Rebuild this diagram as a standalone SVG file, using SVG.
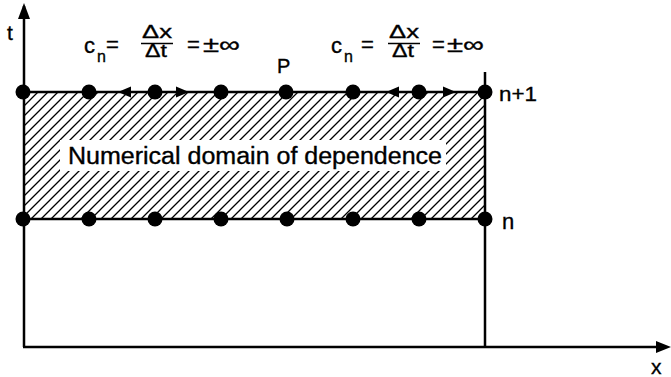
<svg xmlns="http://www.w3.org/2000/svg" width="671" height="377" viewBox="0 0 671 377">
<style>
  .ax{stroke:#000;stroke-width:2.5;fill:none}
  .ln{stroke:#000;stroke-width:2.5;fill:none}
  .dot{fill:#000}
  .t{font-family:"Liberation Sans",Arial,sans-serif;fill:#000;stroke:#000;stroke-width:0.35}
</style>
<defs>
  <pattern id="hatch" patternUnits="userSpaceOnUse" width="10" height="10">
    <path d="M0,10 L10,0 M-2,2 L2,-2 M8,12 L12,8" stroke="#000" stroke-width="1.3"/>
  </pattern>
</defs>
<g id="domain">
  <rect x="23" y="92" width="462" height="127" fill="url(#hatch)"/>
  <rect x="60" y="140" width="386" height="31" fill="#fff"/>
  <text class="t" x="255" y="164" font-size="23" text-anchor="middle" textLength="374" lengthAdjust="spacingAndGlyphs">Numerical domain of dependence</text>
</g>
<g id="connectors">
  <path class="ax" d="M24,347 L24,6" />
  <path d="M24,3 L30,19 L18,19 Z" fill="#000"/>
  <path class="ax" d="M23,347 L660,347" />
  <path d="M671,347 L656,341 L656,353 Z" fill="#000"/>
  <path class="ln" d="M485,72 L485,347" />
  <path class="ln" d="M23,92 L485,92" />
  <path class="ln" d="M23,219 L485,219" />
  <path d="M118,92 L131,86.5 L131,97.5 Z" fill="#000"/>
  <path d="M189,92 L176,86.5 L176,97.5 Z" fill="#000"/>
  <path d="M386,92 L399,86.5 L399,97.5 Z" fill="#000"/>
  <path d="M456,92 L443,86.5 L443,97.5 Z" fill="#000"/>
</g>
<g id="level-n1">
  <circle class="dot" cx="23" cy="92" r="7.5"/>
  <circle class="dot" cx="89" cy="92" r="7.5"/>
  <circle class="dot" cx="155" cy="92" r="7.5"/>
  <circle class="dot" cx="221" cy="92" r="7.5"/>
  <circle class="dot" cx="286" cy="92" r="7.5"/>
  <circle class="dot" cx="353" cy="92" r="7.5"/>
  <circle class="dot" cx="419" cy="92" r="7.5"/>
  <circle class="dot" cx="485" cy="92" r="7.5"/>
</g>
<g id="level-n">
  <circle class="dot" cx="23" cy="219" r="7.5"/>
  <circle class="dot" cx="89" cy="219" r="7.5"/>
  <circle class="dot" cx="155" cy="219" r="7.5"/>
  <circle class="dot" cx="221" cy="219" r="7.5"/>
  <circle class="dot" cx="287" cy="219" r="7.5"/>
  <circle class="dot" cx="353" cy="219" r="7.5"/>
  <circle class="dot" cx="419" cy="219" r="7.5"/>
  <circle class="dot" cx="485" cy="219" r="7.5"/>
</g>
<g id="labels">
  <text class="t" x="7" y="40" font-size="21">t</text>
  <text class="t" x="651" y="374" font-size="21">x</text>
  <text class="t" x="499" y="101" font-size="21" textLength="38" lengthAdjust="spacingAndGlyphs">n+1</text>
  <text class="t" x="502" y="229" font-size="22">n</text>
  <text class="t" x="277" y="73" font-size="20">P</text>
</g>
<g id="formula-left">
  <text class="t" x="84" y="53" font-size="22">c</text>
  <text class="t" x="97" y="62" font-size="16">n</text>
  <text class="t" x="106" y="52" font-size="22">=</text>
  <text class="t" x="142" y="38" font-size="19" textLength="30" lengthAdjust="spacingAndGlyphs">Δx</text>
  <path d="M141,43.5 L173,43.5" stroke="#000" stroke-width="1.5"/>
  <text class="t" x="145" y="57" font-size="19" textLength="22" lengthAdjust="spacingAndGlyphs">Δt</text>
  <text class="t" x="187" y="52" font-size="22">=</text>
  <text class="t" x="203" y="52" font-size="22" textLength="37" lengthAdjust="spacingAndGlyphs">±∞</text>
</g>
<g id="formula-right">
  <text class="t" x="331" y="53" font-size="22">c</text>
  <text class="t" x="344" y="62" font-size="16">n</text>
  <text class="t" x="361" y="52" font-size="22">=</text>
  <text class="t" x="389" y="38" font-size="19" textLength="30" lengthAdjust="spacingAndGlyphs">Δx</text>
  <path d="M388,43.5 L420,43.5" stroke="#000" stroke-width="1.5"/>
  <text class="t" x="392" y="57" font-size="19" textLength="22" lengthAdjust="spacingAndGlyphs">Δt</text>
  <text class="t" x="432" y="52" font-size="22">=</text>
  <text class="t" x="447" y="52" font-size="22" textLength="37" lengthAdjust="spacingAndGlyphs">±∞</text>
</g>
</svg>
